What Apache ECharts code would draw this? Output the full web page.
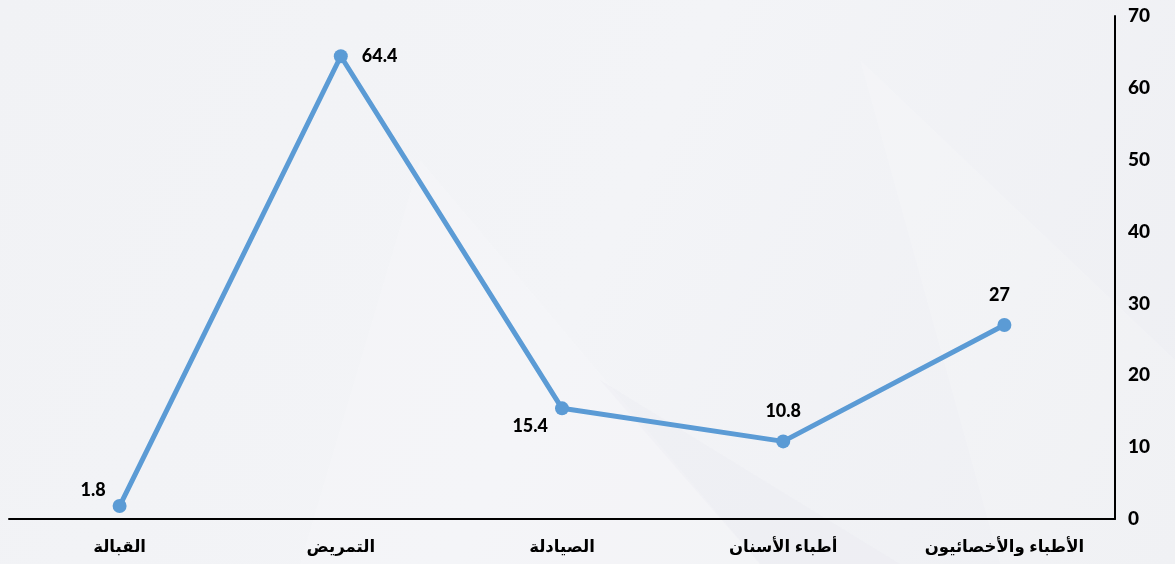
<!DOCTYPE html>
<html><head><meta charset="utf-8">
<script src="https://cdn.jsdelivr.net/npm/echarts@6/dist/echarts.min.js"></script>
<style>html,body{margin:0;padding:0;}#c{width:1175px;height:564px;}</style>
</head><body><div id="c"></div>
<script>
const categories = ['القبالة', 'التمريض', 'الصيادلة', 'أطباء الأسنان', 'الأطباء والأخصائيون'];
const values = [1.8, 64.4, 15.4, 10.8, 27];
const yTicks = [0, 10, 20, 30, 40, 50, 60, 70];

const labelStyles = [
  {position: 'left', offset: [-2, -16]},
  {position: 'right', distance: 14},
  {position: 'left', offset: [-2, 18]},
  {position: 'top', distance: 14},
  {position: 'top', distance: 14, offset: [-5, 0]}
];

const chart = echarts.init(document.getElementById('c'));
chart.setOption({
  backgroundColor: {
    type: 'linear', x: 0, y: 0, x2: 1, y2: 1,
    colorStops: [{offset: 0, color: '#f1f2f5'}, {offset: 0.5, color: '#f3f4f7'}, {offset: 1, color: '#eeeff3'}]
  },
  graphic: [
    {type: 'polygon', silent: true, z: -1, shape: {points: [[420, 160], [760, 564], [300, 564]]},
     style: {fill: 'rgba(255,255,255,0.15)'}},
    {type: 'polygon', silent: true, z: -1, shape: {points: [[860, 60], [1175, 360], [1175, 564], [1000, 564]]},
     style: {fill: 'rgba(255,255,255,0.15)'}},
    {type: 'polygon', silent: true, z: -1, shape: {points: [[600, 380], [900, 564], [760, 564]]},
     style: {fill: 'rgba(230,232,238,0.25)'}}
  ],
  grid: {left: 9, right: 60, top: 16, bottom: 45, containLabel: false},
  xAxis: {
    type: 'category', data: categories, boundaryGap: true,
    axisLine: {lineStyle: {color: '#000', width: 2}},
    axisTick: {show: false},
    axisLabel: {color: '#000', fontWeight: 'bold', fontSize: 16.5, margin: 20,
      fontFamily: "'Liberation Sans', 'DejaVu Sans', sans-serif"}
  },
  yAxis: {
    type: 'value', position: 'right', min: 0, max: 70, interval: 10,
    axisLine: {show: true, lineStyle: {color: '#000', width: 2}},
    axisTick: {show: false},
    splitLine: {show: false},
    axisLabel: {color: '#000', fontWeight: 900, fontSize: 19, margin: 13,
      fontFamily: "Lato, 'Open Sans', sans-serif",
      formatter: v => yTicks.includes(v) ? String(v) : ''}
  },
  series: [{
    type: 'line',
    data: values.map((v, i) => ({value: v, label: labelStyles[i]})),
    lineStyle: {color: '#5b9bd5', width: 5},
    itemStyle: {color: '#5b9bd5'},
    symbol: 'circle', symbolSize: 14,
    label: {show: true, color: '#000', fontWeight: 900, fontSize: 18,
      fontFamily: "Lato, 'Open Sans', sans-serif"},
    animation: false
  }],
  animation: false
});
</script>
</body></html>
